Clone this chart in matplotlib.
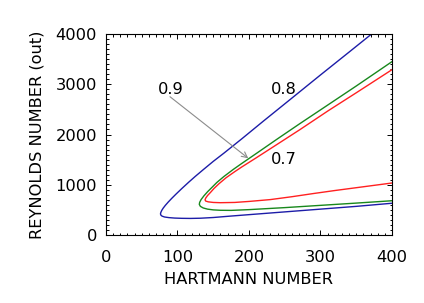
import matplotlib
matplotlib.use('Agg')
import matplotlib.pyplot as plt
from matplotlib.ticker import MultipleLocator

# curves, traced from the upper right end, round the tip, to the lower right end
blue_x = [375, 340, 300, 257, 220, 190, 165, 150, 136, 125, 116, 106, 98, 92, 87, 83, 80, 78, 76.7,
          76.2, 76.8, 78.5, 82, 88, 96, 106, 118, 132, 150, 173, 200, 250, 300, 350, 400]
blue_y = [4040, 3640, 3185, 2690, 2265, 1915, 1630, 1465, 1300, 1168, 1055, 924, 815, 730, 655, 590, 535, 490, 450,
          420, 395, 375, 358, 346, 337, 332, 330, 334, 348, 375, 405, 460, 515, 570, 632]

green_x = [400, 350, 300, 271, 240, 210, 190, 178, 165, 155, 148, 142, 137, 133, 131, 130.5, 132, 136, 142,
           150, 160, 175, 200, 250, 300, 350, 400]
green_y = [3450, 2965, 2490, 2215, 1915, 1620, 1425, 1305, 1165, 1045, 945, 860, 780, 705, 650, 610, 570, 538, 515,
           500, 492, 490, 505, 545, 590, 635, 682]

red_x = [400, 350, 311, 271, 240, 210, 190, 180, 168, 158, 151, 146, 142, 139.5, 138.5, 139.5, 143, 150, 160,
         180, 200, 230, 260, 290, 320, 360, 400]
red_y = [3290, 2830, 2475, 2095, 1810, 1535, 1355, 1260, 1140, 1020, 925, 845, 785, 735, 700, 675, 660, 648, 643,
         648, 668, 705, 762, 825, 885, 960, 1035]

curve_labels = ['0.9', '0.8', '0.7']
label_x = [91, 248, 248]
label_y = [2905, 2905, 1506]

plt.rcParams['font.family'] = 'DejaVu Sans'
fig = plt.figure(figsize=(4.24, 3.03), dpi=100)
ax = fig.add_axes([0.25, 0.2244, 0.6745, 0.6634])

ax.plot(blue_x, blue_y, color='#1c1ca8', lw=1.0)
ax.plot(green_x, green_y, color='#18881c', lw=1.0)
ax.plot(red_x, red_y, color='#ff2020', lw=1.0)

for t, x, y in zip(curve_labels, label_x, label_y):
    ax.text(x, y, t, ha='center', va='center', fontsize=11.7)

# arrow from the 0.9 label to the green curve
ax.annotate('', xy=(199, 1526), xytext=(89.5, 2752),
            arrowprops=dict(arrowstyle='->', color='#8c8c8c', lw=0.8, mutation_scale=10,
                            shrinkA=0, shrinkB=0))

ax.set_xlim(0, 400)
ax.set_ylim(0, 4000)
ax.xaxis.set_major_locator(MultipleLocator(100))
ax.xaxis.set_minor_locator(MultipleLocator(10))
ax.yaxis.set_major_locator(MultipleLocator(1000))
ax.yaxis.set_minor_locator(MultipleLocator(100))
ax.tick_params(which='both', direction='in', top=True, right=True, width=0.7, labelsize=11.7)
ax.tick_params(which='major', length=3.6)
ax.tick_params(which='minor', length=1.8)
ax.tick_params(axis='x', pad=10.5)
ax.tick_params(axis='y', pad=6.5)
for s in ax.spines.values():
    s.set_linewidth(0.8)

ax.set_xlabel('HARTMANN NUMBER', fontsize=11.7, labelpad=5)
ax.set_ylabel('REYNOLDS NUMBER (out)', fontsize=11.7, labelpad=8)

fig.savefig('out.png', dpi=100)
